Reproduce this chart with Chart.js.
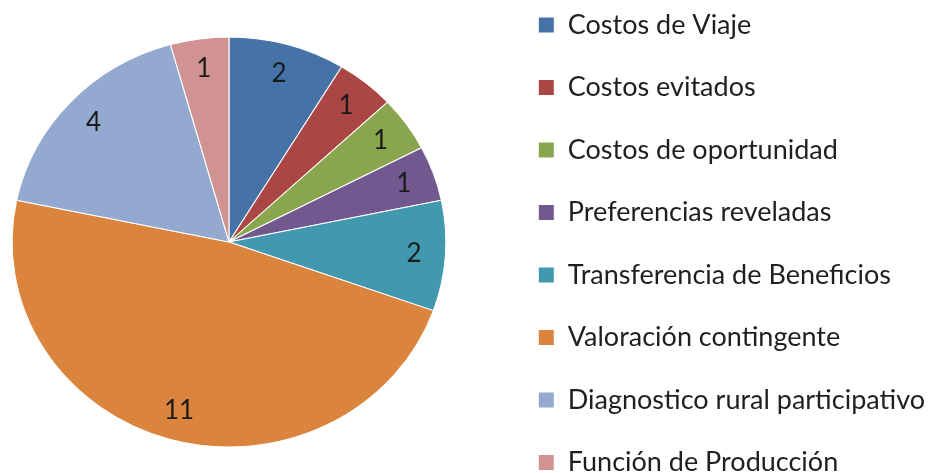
<!DOCTYPE html>
<html>
<head>
<meta charset="utf-8">
<script src="https://cdn.jsdelivr.net/npm/chart.js@4"></script>
<style>
  html, body { margin: 0; padding: 0; background: #fff; overflow: hidden; }
  #wrap { position: relative; width: 935px; height: 473px; overflow: hidden; }
  #box { position: absolute; left: 0; top: -24px; width: 935px; height: 560px; }
</style>
</head>
<body>
<div id="wrap"><div id="box"><canvas id="pie"></canvas></div></div>
<script>
const categories = [
  'Costos de Viaje',
  'Costos evitados',
  'Costos de oportunidad',
  'Preferencias reveladas',
  'Transferencia de Beneficios',
  'Valoración contingente',
  'Diagnostico rural participativo',
  'Función de Producción'
];
const counts = [2, 1, 1, 1, 2, 11, 4, 1];
const sliceColors = ['#4572A7', '#AA4643', '#89A54E', '#71588F', '#4198AF', '#DB843D', '#93A9CF', '#D19392'];

// pie in the original is a little wider than tall and sits left of the chart area centre
const stretchX = 1.058;
const pieCentre = { x: 229, y: 266 };

const ellipseLabels = {
  id: 'ellipseLabels',
  beforeDatasetsDraw(chart) {
    const arc = chart.getDatasetMeta(0).data[0];
    const ctx = chart.ctx;
    ctx.save();
    ctx.translate(pieCentre.x, pieCentre.y);
    ctx.scale(stretchX, 1);
    ctx.translate(-arc.x, -arc.y);
  },
  afterDatasetsDraw(chart) {
    const ctx = chart.ctx;
    ctx.restore();
    ctx.save();
    ctx.fillStyle = '#1a1a1a';
    ctx.font = '26px Lato';
    ctx.textAlign = 'center';
    ctx.textBaseline = 'middle';
    chart.getDatasetMeta(0).data.forEach((a, i) => {
      const p = a.getProps(['startAngle', 'endAngle', 'outerRadius'], true);
      const mid = (p.startAngle + p.endAngle) / 2;
      const r = p.outerRadius * 0.855;
      ctx.fillText(String(counts[i]), pieCentre.x + Math.cos(mid) * r * stretchX, pieCentre.y + Math.sin(mid) * r);
    });
    ctx.restore();
  }
};

new Chart(document.getElementById('pie'), {
  type: 'pie',
  data: {
    labels: categories,
    datasets: [{
      data: counts,
      backgroundColor: sliceColors,
      borderColor: '#ffffff',
      borderWidth: 1
    }]
  },
  options: {
    responsive: true,
    maintainAspectRatio: false,
    animation: false,
    events: [],
    radius: 205,
    plugins: {
      tooltip: { enabled: false },
      legend: {
        position: 'right',
        align: 'start',
        labels: {
          font: { family: 'Lato', size: 27 },
          color: '#1f1f1f',
          boxWidth: 16,
          boxHeight: 16,
          padding: 35.5
        }
      }
    }
  },
  plugins: [ellipseLabels]
});
</script>
</body>
</html>
